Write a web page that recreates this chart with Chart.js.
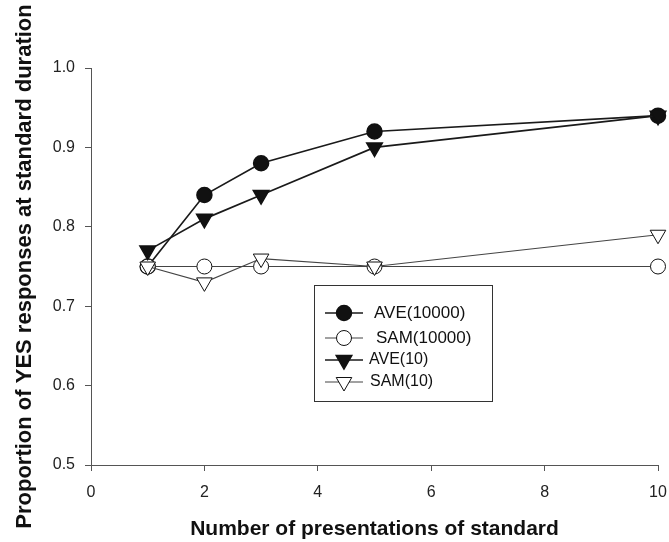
<!DOCTYPE html>
<html><head><meta charset="utf-8">
<script src="https://cdn.jsdelivr.net/npm/chart.js@4.4.1/dist/chart.umd.min.js"></script>
<style>html,body{margin:0;padding:0;background:#fff;}#wrap{width:669px;height:542px;}</style>
</head><body><div id="wrap"><canvas id="c" width="669" height="542"></canvas></div>
<script>
const presentations = [1, 2, 3, 5, 10];
const ave10000 = [0.75, 0.84, 0.88, 0.92, 0.94];
const sam10000 = [0.75, 0.75, 0.75, 0.75, 0.75];
const ave10 = [0.77, 0.81, 0.84, 0.90, 0.94];
const sam10 = [0.75, 0.73, 0.76, 0.75, 0.79];
const seriesLabels = ['AVE(10000)', 'SAM(10000)', 'AVE(10)', 'SAM(10)'];
const xTicks = [0, 2, 4, 6, 8, 10];
const yTicks = [0.5, 0.6, 0.7, 0.8, 0.9, 1.0];

const pts = arr => presentations.map((x, i) => ({x: x, y: arr[i]}));

const styles = [
  {data: ave10000, pointStyle: 'circle', bg: '#111', radius: 7.5, rot: 0, bw: 1.5, lineColor: '#1a1a1a', lw: 1.7},
  {data: sam10000, pointStyle: 'circle', bg: '#fff', radius: 7.5, rot: 0, bw: 1, lineColor: '#444', lw: 1.2},
  {data: ave10, pointStyle: 'triangle', bg: '#111', radius: 9, rot: 180, bw: 1.5, lineColor: '#1a1a1a', lw: 1.7},
  {data: sam10, pointStyle: 'triangle', bg: '#fff', radius: 9, rot: 180, bw: 1, lineColor: '#444', lw: 1.2}
];

const datasets = styles.map((s, i) => ({
  label: seriesLabels[i],
  data: pts(s.data),
  borderColor: s.lineColor,
  borderWidth: s.lw,
  pointStyle: s.pointStyle,
  pointRadius: s.radius,
  pointRotation: s.rot,
  pointBackgroundColor: s.bg,
  pointBorderColor: '#111',
  pointBorderWidth: s.bw,
  showLine: true,
  tension: 0,
  clip: false,
  order: 4 - i
}));

const legendBox = {
  id: 'legendBox',
  afterDraw(chart) {
    const ctx = chart.ctx;
    const x0 = 314, y0 = 285, w = 178, h = 116;
    ctx.save();
    ctx.fillStyle = '#fff';
    ctx.fillRect(x0, y0, w, h);
    ctx.strokeStyle = '#333';
    ctx.lineWidth = 1;
    ctx.strokeRect(x0 + 0.5, y0 + 0.5, w, h);
    const rows = [313, 338, 360, 382];
    const sizes = [17, 17, 16, 16];
    const textX = [374, 376, 369, 370];
    chart.data.datasets.forEach((ds, i) => {
      const y = rows[i];
      ctx.strokeStyle = ds.borderColor;
      ctx.lineWidth = ds.borderWidth;
      ctx.beginPath();
      ctx.moveTo(325, y);
      ctx.lineTo(363, y);
      ctx.stroke();
      ctx.fillStyle = ds.pointBackgroundColor;
      ctx.strokeStyle = ds.pointBorderColor;
      ctx.lineWidth = ds.pointBorderWidth;
      Chart.helpers.drawPoint(ctx, {pointStyle: ds.pointStyle, radius: ds.pointRadius, rotation: ds.pointRotation, borderWidth: ds.pointBorderWidth}, 344, y);
      ctx.fillStyle = '#111';
      ctx.font = sizes[i] + 'px "Liberation Sans", Arial, sans-serif';
      ctx.textBaseline = 'middle';
      ctx.textAlign = 'left';
      ctx.fillText(ds.label, textX[i], y);
    });
    ctx.restore();
  }
};

new Chart(document.getElementById('c'), {
  type: 'scatter',
  data: {datasets: datasets},
  plugins: [legendBox],
  options: {
    responsive: false,
    animation: false,
    layout: {padding: {left: 0, right: 11, top: 68, bottom: 0}},
    plugins: {legend: {display: false}, tooltip: {enabled: false}},
    scales: {
      x: {
        type: 'linear', min: 0, max: 10,
        afterBuildTicks: s => { s.ticks = xTicks.map(v => ({value: v})); },
        afterFit: s => { s.height = 77; s.paddingLeft = 0; s.paddingRight = 0; },
        grid: {drawOnChartArea: false, drawTicks: true, tickLength: 6, color: '#555', tickWidth: 1},
        border: {color: '#555', width: 1},
        ticks: {color: '#222', font: {family: '"Liberation Sans", Arial, sans-serif', size: 16}, padding: 12, maxRotation: 0},
        title: {display: true, text: 'Number of presentations of standard', color: '#111',
          font: {family: '"Liberation Sans", Arial, sans-serif', size: 21, weight: 'bold'}, padding: {top: 0, bottom: 0}}
      },
      y: {
        type: 'linear', min: 0.5, max: 1.0,
        afterBuildTicks: s => { s.ticks = yTicks.map(v => ({value: v})); },
        afterFit: s => { s.width = 91; s.paddingTop = 0; s.paddingBottom = 0; },
        grid: {drawOnChartArea: false, drawTicks: true, tickLength: 6, color: '#555', tickWidth: 1},
        border: {color: '#555', width: 1},
        ticks: {color: '#222', font: {family: '"Liberation Sans", Arial, sans-serif', size: 16}, padding: 10,
          callback: v => v.toFixed(1)},
        title: {display: true, text: 'Proportion of YES responses at standard duration', color: '#111',
          font: {family: '"Liberation Sans", Arial, sans-serif', size: 22, weight: 'bold'}, padding: {top: 12, bottom: 0}}
      }
    }
  }
});
</script></body></html>
